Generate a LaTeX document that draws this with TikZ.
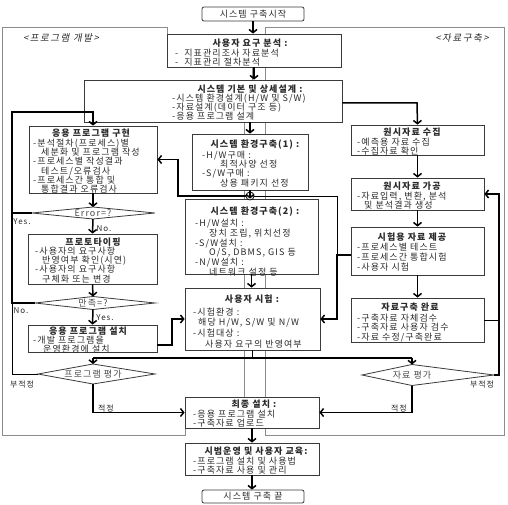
\documentclass[tikz,border=0pt]{standalone}
\usepackage{fontspec}
\setmainfont{Noto Sans CJK KR}
\newfontfamily\kr[LetterSpace=12]{Noto Sans CJK KR}
\newfontfamily\krslant[FakeSlant=0.2,LetterSpace=16]{Noto Sans CJK KR}
\usetikzlibrary{arrows.meta,calc}
\definecolor{ink}{HTML}{2A2A2A}
\definecolor{frame}{HTML}{3A3A3A}
\definecolor{grp}{HTML}{8C8C8C}

% kite-shaped decision: name, cx, cy, left half, right half, half height, text
\newcommand\kite[7]{%
  \coordinate (#1-w) at ({#2-#4},#3);
  \coordinate (#1-e) at ({#2+#5},#3);
  \coordinate (#1-n) at (#2,{#3-#6});
  \coordinate (#1-s) at (#2,{#3+#6});
  \draw[kiteline] (#1-w) -- (#1-n) -- (#1-e) -- (#1-s) -- cycle;
  \node[dtext] (#1) at (#2,#3) {#7};}

\begin{document}
\begin{tikzpicture}[x=1pt,y=-1pt,
  box/.style={draw=frame, fill=white, line width=0.8pt, inner sep=0pt},
  ttl/.style={font=\kr\bfseries\fontsize{9}{9.3}\selectfont, text=ink, inner sep=0pt},
  body/.style={font=\kr\fontsize{9}{9.3}\selectfont, text=ink, align=left, inner sep=0pt, anchor=north west},
  plain/.style={font=\kr\fontsize{9}{9.3}\selectfont, text=ink},
  dtext/.style={font=\kr\fontsize{9}{9.3}\selectfont, text=ink!85, inner sep=0pt},
  small/.style={font=\kr\fontsize{8}{8}\selectfont, text=ink, inner sep=0pt},
  kiteline/.style={draw=frame, fill=white, line width=0.8pt},
  group/.style={draw=grp, line width=0.7pt},
  grplabel/.style={font=\krslant\fontsize{9.5}{9.5}\selectfont, text=ink, inner sep=0pt},
  conn/.style={draw=black, line width=1.5pt},
  thinconn/.style={draw=black, line width=0.8pt},
  arr/.style={-{Straight Barb[length=3.2pt,width=8pt]}}]

\useasboundingbox (0,0) rectangle (508,505);
\fill[white] (0,0) rectangle (508,505);

% the two working areas
\draw[group] (2,27) -- (167,27) -- (167,45) -- (252,45) -- (252,100) -- (244,100)
  -- (244,410) -- (185,410) -- (185,435) -- (2,435) -- cycle;
\draw[group] (265,27) -- (504,27) -- (504,435) -- (265,435) -- cycle;
\node[grplabel] (pglbl) at (61,38) {<프로그램 개발>};
\node[grplabel] (dclbl) at (462,38) {<자료구축>};

% main column
\node[box, rounded corners=2pt, minimum width=102pt, minimum height=14pt, plain] (start) at (253,14) {시스템 구축시작};

\node[box, minimum width=174pt, minimum height=33pt] (req) at (254,50.5) {};
\node[ttl] (req-t) at (250,43) {사용자 요구 분석 :};
\node[body] (req-b) at (175,48.5) {-\hspace*{6pt}지표관리조사 자료분석\\-\hspace*{6pt}지표관리 절차분석};

\node[box, minimum width=258pt, minimum height=42pt] (design) at (213,101) {};
\node[ttl] (design-t) at (250,89.5) {시스템 기본 및 상세설계 :};
\node[body] (design-b) at (172,93.5) {-시스템 환경설계(H/W 및 S/W)\\-자료설계(데이터 구조 등)\\-응용 프로그램 설계};

\node[box, minimum width=116pt, minimum height=56pt] (env1) at (250,162) {};
\node[ttl] (env1-t) at (255,145) {시스템 환경구축(1) :};
\node[body] (env1-b) at (202,150.5) {-H/W구매 :\\ \hspace*{18pt}최적사양 선정\\-S/W구매 :\\ \hspace*{18pt}상용 패키지 선정};

\node[box, minimum width=133pt, minimum height=75pt] (env2) at (251.5,236.5) {};
\node[ttl] (env2-t) at (255,212) {시스템 환경구축(2) :};
\node[body, font=\kr\fontsize{9}{9}\selectfont] (env2-b) at (195,218.5) {-H/W설치 :\\ \hspace*{14pt}장치 조립, 위치선정\\-S/W설치 :\\ \hspace*{14pt}O/S, DBMS, GIS 등\\-N/W설치 :\\ \hspace*{14pt}네트워크 설정 등};

\node[box, minimum width=135pt, minimum height=62pt] (test) at (252.5,319) {};
\node[ttl] (test-t) at (252,299) {사용자 시험 :};
\node[body, font=\kr\fontsize{9}{10.7}\selectfont] (test-b) at (193,307.5) {-시험환경 :\\ \hspace*{5pt}해당 H/W, S/W 및 N/W\\-시험대상 :\\ \hspace*{12pt}사용자 요구의 반영여부};

\node[box, minimum width=134pt, minimum height=31pt] (install) at (252,412.5) {};
\node[ttl] (install-t) at (254,404) {최종 설치 :};
\node[body] (install-b) at (193,409.5) {-응용 프로그램 설치\\-구축자료 업로드};

\node[box, minimum width=134pt, minimum height=32pt] (pilot) at (252,459) {};
\node[ttl] (pilot-t) at (256,451) {시범운영 및 사용자 교육:};
\node[body] (pilot-b) at (193,456.5) {-프로그램 설치 및 사용법\\-구축자료 사용 및 관리};

\node[box, rounded corners=2pt, minimum width=102pt, minimum height=13pt, plain] (end) at (253,496.5) {시스템 구축 끝};

% program development column
\node[box, minimum width=128pt, minimum height=67pt] (impl) at (93,159.5) {};
\node[ttl] (impl-t) at (91,133) {응용 프로그램 구현};
\node[body] (impl-b) at (33,138.5) {-분석절차(프로세스)별\\ \hspace*{8pt}세분화 및 프로그램 작성\\-프로세스별 작성결과\\ \hspace*{8pt}테스트/오류검사\\-프로세스간 통합 및\\ \hspace*{8pt}통합결과 오류검사};

\kite{err}{93}{213}{61}{62}{6}{Error=?}

\node[box, minimum width=129pt, minimum height=50pt] (proto) at (92.5,259) {};
\node[ttl] (proto-t) at (93,242) {프로토타이핑};
\node[body] (proto-b) at (35,246.5) {-사용자의 요구사항\\ \hspace*{7pt}반영여부 확인(시연)\\-사용자의 요구사항\\ \hspace*{7pt}구체화 또는 변경};

\kite{sat}{93}{303}{58}{62}{6.5}{만족=?}

\node[box, minimum width=129pt, minimum height=27pt] (appinst) at (92.5,338.5) {};
\node[ttl] (appinst-t) at (88,331) {응용 프로그램 설치};
\node[body] (appinst-b) at (33,335.5) {-개발 프로그램을\\ \hspace*{10pt}운영환경에 설치};

\kite{pe}{93}{374}{55}{62}{10}{프로그램 평가}

% data construction column
\node[box, minimum width=133pt, minimum height=30pt] (collect) at (417.5,140) {};
\node[ttl] (collect-t) at (412,132) {원시자료 수집};
\node[body] (collect-b) at (357,137.5) {-예측용 자료 수집\\-수집자료 확인};

\node[box, minimum width=133pt, minimum height=32pt] (process) at (417.5,194) {};
\node[ttl] (process-t) at (412,186) {원시자료 가공};
\node[body] (process-b) at (357,191.5) {-자료입력, 변환, 분석\\ \hspace*{7pt}및 분석결과 생성};

\node[box, minimum width=133pt, minimum height=48pt] (provide) at (417.5,251) {};
\node[ttl] (provide-t) at (412,237) {시험용 자료 제공};
\node[body, font=\kr\fontsize{9}{10.3}\selectfont] (provide-b) at (357,242.5) {-프로세스별 테스트\\-프로세스간 통합시험\\-사용자 시험};

\node[box, minimum width=133pt, minimum height=44pt] (done) at (417.5,320) {};
\node[ttl] (done-t) at (410,307) {자료구축 완료};
\node[body, font=\kr\fontsize{9}{9.6}\selectfont] (done-b) at (357,313.5) {-구축자료 자체검수\\-구축자료 사용자 검수\\-자료 수정/구축완료};

\kite{de}{412}{375}{50}{82}{10.5}{자료 평가}

% bend points
\coordinate (loopTop) at (12,112);
\coordinate (loopErr) at (12,213);
\coordinate (loopSat) at (12,303);
\coordinate (loopPe) at (12,374);
\coordinate (dr) at (417,103);
\coordinate (lb) at (172,345);
\coordinate (rb) at (337,255);
\coordinate (rbUp) at (337,196);
\coordinate (lbUp) at (178,196);
\coordinate (split) at (253,358);
\coordinate (rbus) at (499,375);

% main flow
\draw[conn,arr] (start) -- (start.south |- req.north);
\draw[conn,arr] (req.south) -- (req.south |- design.north);
\draw[conn,arr] (env1.north |- design.south) -- (env1.north);
\draw[conn,arr] (design.east |- dr) -- (dr) -- (collect.north);
\node[circle, draw=black, line width=0.8pt, fill=white, minimum size=8pt, inner sep=0pt] (hop) at (250,196) {};
\draw[conn,arr] (env1.south) -- (env1.south |- env2.north);
\draw[conn,arr] (env2.south) -- (env2.south |- test.north);
\draw[conn] (test.south) -- (test.south |- split);
\draw[conn] (pe-n |- split) -- (de-n |- split);
\draw[conn,arr] (pe-n |- split) -- (pe-n);
\draw[conn,arr] (de-n |- split) -- (de-n);
\draw[conn,arr] (install.south) -- (install.south |- pilot.north);
\draw[conn,arr] (pilot.south) -- (pilot.south |- end.north);

% program development flow
\draw[conn,arr] (sat-w) -- (loopSat) -- (loopTop) -- (impl.north |- loopTop) -- (impl.north);
\draw[conn] (err-w) -- (loopErr);
\draw[thinconn] (pe-w) -- (loopPe) -- (loopSat);
\draw[conn,arr] (impl.south) -- (err-n);
\draw[conn,arr] (err-s) -- (proto.north);
\draw[conn,arr] (proto.south) -- (sat-n);
\draw[conn,arr] (sat-s) -- (appinst.north);
\draw[conn,arr] (appinst.east |- lb) -- (lb) |- (test.west);
\draw[conn,arr] (pe-s) |- (install.west);

% data construction flow
\draw[conn,arr] (collect.south) -- (process.north);
\draw[conn,arr] (process.south) -- (provide.north);
\draw[conn,arr] (provide.south) -- (done.north);
\draw[conn,arr] (provide.west |- rb) -- (rb) |- (test.east);
\draw[thinconn] (rb) -- (rbUp) -- (hop.east);
\draw[conn,arr] (hop.west) -- (lbUp) |- (impl.east);
\draw[thinconn] (done.east) -- (rbus |- done.east);
\draw[conn,arr] (de-e) -- (rbus) |- (process.east);
\draw[conn,arr] (de-s) |- (install.east);

% branch labels
\node[small] (yes1) at (22,222) {Yes.};
\node[small] (no1) at (104,229) {No.};
\node[small] (no2) at (21,311) {No.};
\node[small] (yes2) at (105,318) {Yes.};
\node[small] (bad1) at (22,385) {부적정};
\node[small] (bad2) at (482,385) {부적정};
\node[small] (ok1) at (106,408) {적정};
\node[small] (ok2) at (399,408) {적정};
\end{tikzpicture}
\end{document}
